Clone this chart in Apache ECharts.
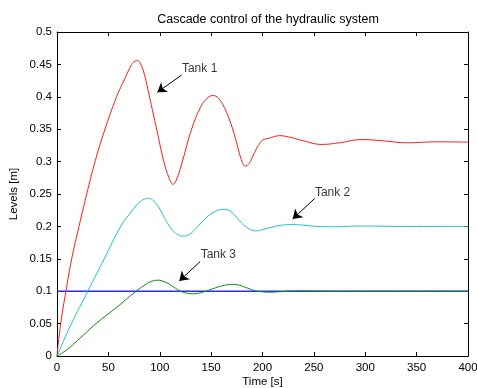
<!DOCTYPE html>
<html>
<head>
<meta charset="utf-8">
<script src="https://cdn.jsdelivr.net/npm/echarts@6/dist/echarts.min.js"></script>
<style>
  html, body { margin: 0; padding: 0; background: #fff; }
  #cascade-chart { width: 477px; height: 388px; }
</style>
</head>
<body>
<div id="cascade-chart"></div>
<script>
var xTicks = [0, 50, 100, 150, 200, 250, 300, 350, 400];
var yTicks = [0, 0.05, 0.1, 0.15, 0.2, 0.25, 0.3, 0.35, 0.4, 0.45, 0.5];

var tank1Time = [0, 3.6, 8.7, 14.3, 21.4, 28.9, 37, 46.7, 58, 66, 72.7, 76, 78.5, 81, 85, 90, 97, 104, 109, 113, 117, 122, 131, 140, 147, 152, 157, 163, 170, 175, 179, 183, 187, 191, 196, 200, 206, 217, 228, 240, 257, 275, 296, 318, 340, 370, 400];
var tank1Level = [0, 0.05, 0.1, 0.15, 0.2, 0.25, 0.3, 0.35, 0.4, 0.428, 0.45, 0.455, 0.4557, 0.452, 0.435, 0.4, 0.35, 0.3, 0.275, 0.265, 0.275, 0.3, 0.35, 0.385, 0.399, 0.402, 0.398, 0.383, 0.355, 0.328, 0.305, 0.293, 0.297, 0.31, 0.325, 0.333, 0.336, 0.34, 0.337, 0.332, 0.3265, 0.329, 0.334, 0.332, 0.329, 0.3305, 0.33];

var tank2Time = [0, 14, 30, 46, 62, 72, 80, 85, 89, 93, 98, 103, 108, 113, 118, 123, 128, 133, 140, 147, 155, 160, 163, 167, 172, 178, 185, 190, 194, 200, 207, 215, 222, 227, 235, 245, 260, 275, 290, 310, 330, 350, 375, 400];
var tank2Level = [0, 0.05, 0.1, 0.15, 0.2, 0.222, 0.237, 0.242, 0.2434, 0.241, 0.232, 0.218, 0.204, 0.193, 0.187, 0.185, 0.187, 0.193, 0.205, 0.216, 0.224, 0.226, 0.2263, 0.225, 0.219, 0.208, 0.198, 0.194, 0.193, 0.195, 0.198, 0.201, 0.2025, 0.203, 0.2025, 0.201, 0.1995, 0.1995, 0.2005, 0.2005, 0.2, 0.2, 0.2, 0.2];

var tank3Time = [0, 10, 20, 38, 58, 77, 84, 90, 95, 98, 102, 108, 114, 120, 126, 132, 138, 145, 152, 160, 166, 172, 178, 185, 192, 200, 207, 215, 225, 240, 260, 300, 350, 400];
var tank3Level = [0, 0.01, 0.024, 0.05, 0.075, 0.1, 0.108, 0.114, 0.1165, 0.117, 0.116, 0.112, 0.106, 0.1, 0.097, 0.096, 0.097, 0.1, 0.104, 0.108, 0.11, 0.1106, 0.109, 0.105, 0.101, 0.099, 0.0985, 0.099, 0.1, 0.1005, 0.1, 0.1, 0.1, 0.1];

var setpointTime = [0, 400];
var setpointLevel = [0.1, 0.1];

// annotation text anchor and arrow (from -> to), in data units
var noteNames = ['Tank 1', 'Tank 2', 'Tank 3'];
var noteText = [[121.6, 0.444], [251, 0.2526], [139.8, 0.156]];
var noteArrowFrom = [[121.4, 0.4336], [251, 0.2434], [139.2, 0.1455]];
var noteArrowTo = [[97.6, 0.407], [229.4, 0.2114], [119, 0.1157]];

function pairs(xs, ys) {
  var out = [];
  for (var i = 0; i < xs.length; i++) {
    out.push([xs[i], ys[i]]);
  }
  return out;
}

var fontFamily = 'Liberation Sans, Arial, sans-serif';
var axisColor = '#000';

function boxXAxis(showLabels, pos) {
  return {
    type: 'value',
    position: pos,
    min: xTicks[0],
    max: xTicks[xTicks.length - 1],
    interval: 50,
    splitLine: { show: false },
    axisLine: { onZero: false, lineStyle: { color: axisColor, width: 1 } },
    axisTick: { inside: true, length: 4, lineStyle: { color: axisColor } },
    axisLabel: {
      show: showLabels,
      margin: 6,
      fontFamily: fontFamily,
      fontSize: 11.5,
      color: '#000'
    }
  };
}

function boxYAxis(showLabels, pos) {
  return {
    type: 'value',
    position: pos,
    min: yTicks[0],
    max: yTicks[yTicks.length - 1],
    interval: 0.05,
    splitLine: { show: false },
    axisLine: { onZero: false, lineStyle: { color: axisColor, width: 1 } },
    axisTick: { inside: true, length: 4, lineStyle: { color: axisColor } },
    axisLabel: {
      show: showLabels,
      margin: 5,
      fontFamily: fontFamily,
      fontSize: 11.5,
      color: '#000',
      formatter: function (v) {
        return String(parseFloat(v.toFixed(2)));
      }
    }
  };
}

var bottomAxis = boxXAxis(true, 'bottom');
bottomAxis.name = 'Time [s]';
bottomAxis.nameLocation = 'middle';
bottomAxis.nameGap = 20;
bottomAxis.nameMoveOverlap = false;
bottomAxis.nameTextStyle = { fontFamily: fontFamily, fontSize: 11.5, color: '#000' };

var leftAxis = boxYAxis(true, 'left');
leftAxis.name = 'Levels [m]';
leftAxis.nameLocation = 'middle';
leftAxis.nameGap = 37;
leftAxis.nameMoveOverlap = false;
leftAxis.nameTextStyle = { fontFamily: fontFamily, fontSize: 11.5, color: '#000' };

var arrowLines = [];
for (var i = 0; i < noteNames.length; i++) {
  arrowLines.push([{ coord: noteArrowFrom[i] }, { coord: noteArrowTo[i] }]);
}

var noteData = [];
for (var j = 0; j < noteNames.length; j++) {
  noteData.push({ value: noteText[j], name: noteNames[j] });
}

var lineSeries = function (name, data, color, width) {
  return {
    name: name,
    type: 'line',
    data: data,
    showSymbol: false,
    smooth: 0.4,
    animation: false,
    lineStyle: { color: color, width: width }
  };
};

var chartDom = document.getElementById('cascade-chart');
var chart = echarts.init(chartDom, null, { renderer: 'canvas' });

var options = {
  animation: false,
  title: {
    text: 'Cascade control of the hydraulic system',
    left: 263,
    top: 8,
    textAlign: 'center',
    textStyle: { fontFamily: fontFamily, fontSize: 12.5, fontWeight: 'normal', color: '#000' }
  },
  legend: null,
  tooltip: { show: false },
  grid: { left: 57, right: 9, top: 32, bottom: 32, containLabel: false, outerBoundsMode: 'none' },
  xAxis: [bottomAxis, boxXAxis(false, 'top')],
  yAxis: [leftAxis, boxYAxis(false, 'right')],
  series: [
    lineSeries('Setpoint', pairs(setpointTime, setpointLevel), '#2b2bff', 1.6),
    lineSeries('Tank 1', pairs(tank1Time, tank1Level), '#ff1a1a', 1),
    lineSeries('Tank 2', pairs(tank2Time, tank2Level), '#1fc4c4', 1),
    lineSeries('Tank 3', pairs(tank3Time, tank3Level), '#108a10', 1),
    {
      name: 'notes',
      type: 'scatter',
      data: noteData,
      symbolSize: 0,
      silent: true,
      label: {
        show: true,
        position: 'right',
        distance: 0,
        formatter: '{b}',
        fontFamily: fontFamily,
        fontSize: 12,
        color: '#000'
      },
      markLine: {
        silent: true,
        animation: false,
        symbol: ['none', 'arrow'],
        symbolSize: 9,
        label: { show: false },
        lineStyle: { color: '#000', width: 1, type: 'solid' },
        data: arrowLines
      }
    }
  ]
};

chart.setOption(options, true);
</script>
</body>
</html>
